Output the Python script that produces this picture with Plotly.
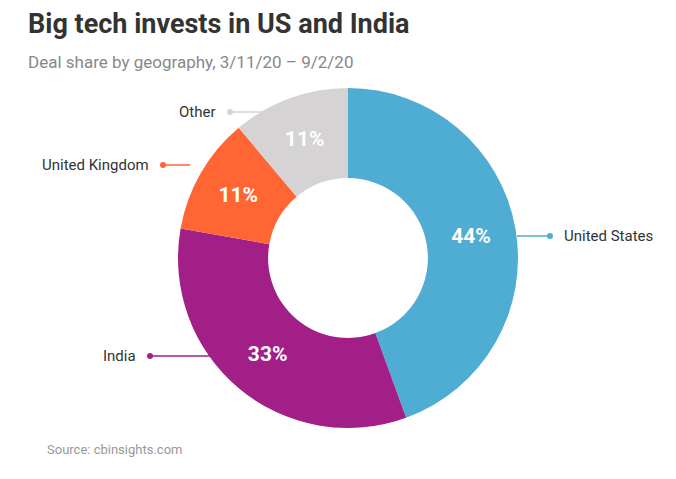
import plotly.graph_objects as go

labels = ["United States", "India", "United Kingdom", "Other"]
values = [44, 33, 11, 11]
colors = ["#4FACD2", "#A21F87", "#FF6633", "#D5D3D3"]
line_colors = ["#4FACD2", "#A21F87", "#FF6633", "#D5D3D3"]

W, H = 676, 479
OFF = 8  # page body margin

def px(x): return (x - OFF) / W
def py(y): return 1 - (y - OFF) / H

fig = go.Figure(go.Pie(
    labels=labels, values=values, hole=0.47, sort=False, direction="clockwise",
    rotation=0, marker=dict(colors=colors, line=dict(color="white", width=0)),
    texttemplate="%{value}%", textposition="inside", insidetextorientation="horizontal",
    textfont=dict(family="Roboto", size=21, color="white", weight="bold"),
    domain=dict(x=[px(348 - 170), px(348 + 170)], y=[py(428), py(88)]),
    showlegend=False, hoverinfo="label+percent",
))

# leader lines: (dot x, edge x, y, label side)
leaders = [(550, 517, 236, "right"), (150, 215, 356, "left"),
           (163, 190, 165, "left"), (230, 262, 112, "left")]
shapes = []
annotations = []
for (dx, ex, y, side), lab, c in zip(leaders, labels, line_colors):
    shapes.append(dict(type="line", xref="paper", yref="paper", x0=px(dx), x1=px(ex),
                       y0=py(y), y1=py(y), line=dict(color=c, width=1.5)))
    shapes.append(dict(type="circle", xref="paper", yref="paper",
                       x0=px(dx - 3), x1=px(dx + 3), y0=py(y + 3), y1=py(y - 3),
                       fillcolor=c, line=dict(width=0)))
    if side == "right":
        annotations.append(dict(x=px(dx + 12), y=py(y), xref="paper", yref="paper", text=lab,
                                showarrow=False, xanchor="left", yanchor="middle",
                                font=dict(family="Roboto", size=15, color="#333333")))
    else:
        annotations.append(dict(x=px(dx - 12), y=py(y), xref="paper", yref="paper", text=lab,
                                showarrow=False, xanchor="right", yanchor="middle",
                                font=dict(family="Roboto", size=15, color="#333333")))

annotations += [
    dict(x=px(26), y=py(24), xref="paper", yref="paper", text="<b>Big tech invests in US and India</b>",
         showarrow=False, xanchor="left", yanchor="middle",
         font=dict(family="Roboto", size=27, color="#333333")),
    dict(x=px(26), y=py(62), xref="paper", yref="paper", text="Deal share by geography, 3/11/20 – 9/2/20",
         showarrow=False, xanchor="left", yanchor="middle",
         font=dict(family="Roboto", size=17, color="#888888")),
    dict(x=px(45), y=py(449), xref="paper", yref="paper", text="Source: cbinsights.com",
         showarrow=False, xanchor="left", yanchor="middle",
         font=dict(family="Roboto", size=13, color="#999999")),
]

fig.update_layout(width=W, height=H, margin=dict(l=0, r=0, t=0, b=0),
                  paper_bgcolor="white", plot_bgcolor="white",
                  shapes=shapes, annotations=annotations)

fig.write_html("out.html")
